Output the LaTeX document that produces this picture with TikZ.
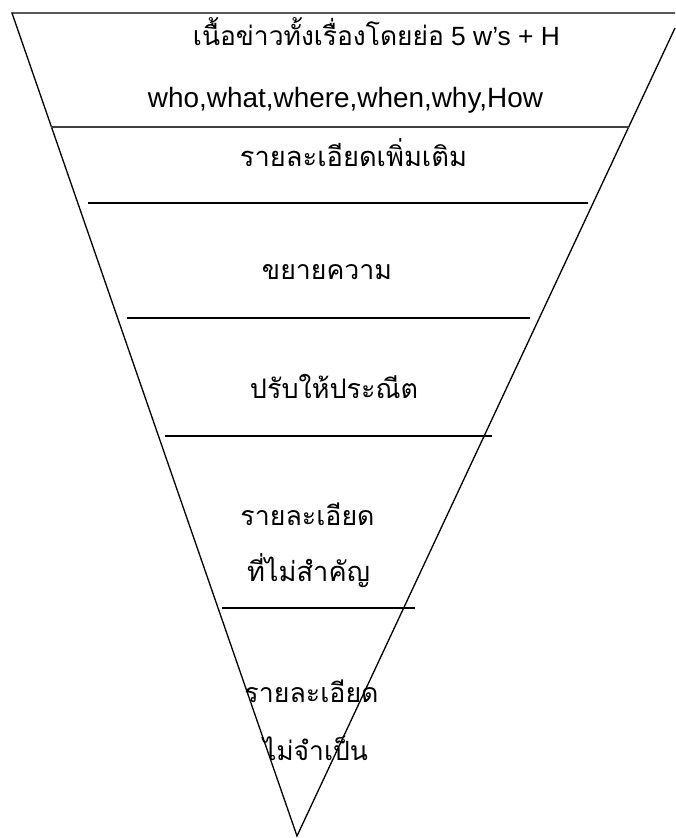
\documentclass[tikz,border=0pt]{standalone}
\usepackage{fontspec}
\setmainfont{Liberation Sans}
\newfontfamily\thaifont[Script=Thai]{Loma}
\usepackage{graphicx}
\begin{document}
\begin{tikzpicture}[x=1pt,y=-1pt,
  edge/.style={draw=black,line width=1.3pt,line join=miter},
  rule/.style={draw=black,line width=1.8pt},
  thinrule/.style={draw=black!75,line width=1.1pt},
  lbl/.style={inner sep=0pt,anchor=base,text=black}]
\useasboundingbox (0,0) rectangle (675,838);
\fill[white] (0,0) rectangle (675,838);
\coordinate (tl) at (12,13);
\coordinate (tr) at (675,13);
\coordinate (rr) at (675,28);
\coordinate (apex) at (297,836);
\draw[edge] (tr) -- (tl) -- (apex) -- (rr);
% horizontal rules
\draw[thinrule] (51,127) -- (629,127);
\draw[rule] (88,203) -- (588,203);
\draw[rule] (127,318) -- (530,318);
\draw[rule] (165,436) -- (492,436);
\draw[rule] (222,608) -- (415,608);
% texts
\node[lbl] (t1) at (376.5,45) {\resizebox{367pt}{!}{{\thaifont เนื้อข่าวทั้งเรื่องโดยย่อ} 5 w's + H}};
\node[lbl] (t2) at (345.5,107) {\resizebox{395pt}{!}{who,what,where,when,why,How}};
\node[lbl] (t3) at (353.5,166) {\resizebox{227pt}{!}{\thaifont รายละเอียดเพิ่มเติม}};
\node[lbl] (t4) at (327,279) {\resizebox{130pt}{!}{\thaifont ขยายความ}};
\node[lbl] (t5) at (334,398) {\resizebox{168pt}{!}{\thaifont ปรับให้ประณีต}};
\node[lbl] (t6) at (307.5,525) {\resizebox{134pt}{!}{\thaifont รายละเอียด}};
\node[lbl] (t7) at (308.5,581) {\resizebox{123pt}{!}{\thaifont ที่ไม่สำคัญ}};
\node[lbl] (t8) at (311.5,702) {\resizebox{134pt}{!}{\thaifont รายละเอียด}};
\node[lbl] (t9) at (315.5,760) {\resizebox{105pt}{!}{\thaifont ไม่จำเป็น}};
\end{tikzpicture}
\end{document}
